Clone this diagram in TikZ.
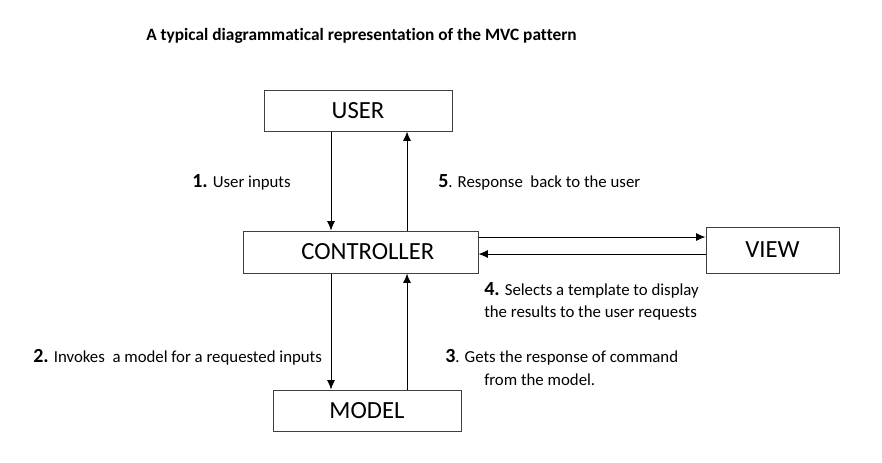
\documentclass[tikz,border=0pt]{standalone}
\usepackage{fontspec}
\setmainfont{Carlito}[Ligatures=NoCommon]
\usetikzlibrary{arrows.meta}
\newcommand\numlbl[1]{{\fontsize{15}{16.5}\selectfont\bfseries #1}}
\tikzset{
  block/.style={draw=black!75, line width=0.75pt, inner sep=0pt, font=\fontsize{18.5}{22}\selectfont},
  lbl/.style={inner sep=0pt, font=\fontsize{12.6}{16.5}\selectfont},
  link/.style={->, line width=0.75pt},
}
\begin{document}
\begin{tikzpicture}[>={Latex[length=7pt,width=6pt]}, x=0.75pt, y=-0.75pt]
	\useasboundingbox (0,0) rectangle (882,462);
	% title
	\node [lbl, anchor=base west, font=\fontsize{13}{15}\selectfont\bfseries] (title) at (146,40) {A typical diagrammatical representation of the MVC pattern};
	% the four parts
	\node [block, minimum width=141pt, minimum height=30.75pt] (user) at (358,110.5) {USER};
	\node [block, minimum width=176.25pt, minimum height=31.5pt] (ctrl) at (360.5,252) {\hspace*{11pt}CONTROLLER};
	\node [block, minimum width=99.75pt, minimum height=34.5pt] (view) at (772.5,250) {VIEW};
	\node [block, minimum width=141pt, minimum height=30.75pt] (model) at (367,410.5) {MODEL};
	% links
	\coordinate (down) at (331,0);
	\coordinate (up) at (407,0);
	\coordinate (hi) at (0,237);
	\coordinate (lo) at (0,254);
	\draw [link] (user.south -| down) -- (ctrl.north -| down);
	\draw [link] (ctrl.north -| up) -- (user.south -| up);
	\draw [link] (ctrl.south -| down) -- (model.north -| down);
	\draw [link] (model.north -| up) -- (ctrl.south -| up);
	\draw [link] (ctrl.east |- hi) -- (view.west |- hi);
	\draw [link] (view.west |- lo) -- (ctrl.east |- lo);
	% step labels
	\node [lbl, anchor=base west] (s1) at (192,187) {\numlbl{1.} User inputs};
	\node [lbl, anchor=base west] (s5) at (438,187) {\numlbl{5}. Response\ \ back to the user};
	\node [lbl, anchor=base west] (s2) at (33,362) {\numlbl{2.} Invokes\ \ a model for a requested inputs};
	\node [lbl, anchor=north west, align=left] (s3) at (445,349) {\numlbl{3}. Gets the response of command\\[0.6pt] \hspace*{29.25pt}from the model.};
	\node [lbl, anchor=north west, align=left] (s4) at (484,282) {\numlbl{4.} Selects a template to display\\ the results to the user requests};
\end{tikzpicture}
\end{document}
